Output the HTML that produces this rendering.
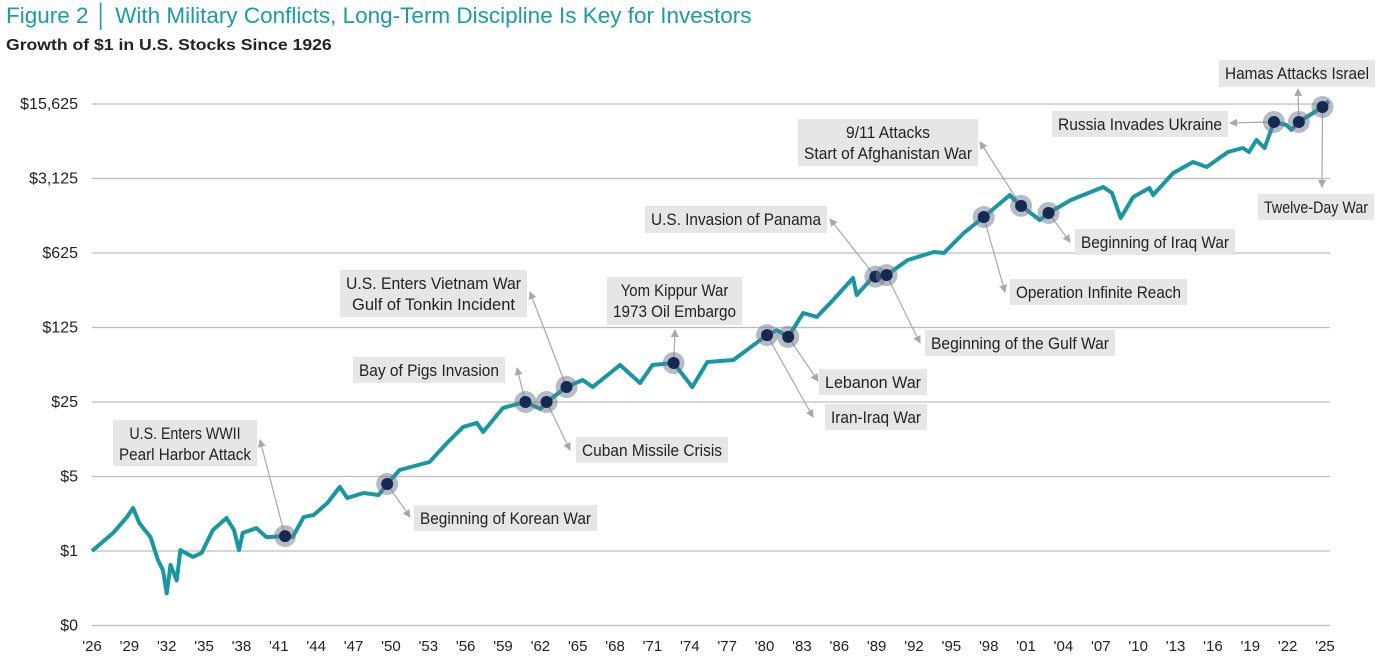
<!DOCTYPE html>
<html><head><meta charset="utf-8">
<style>
body{margin:0;background:#fff;width:1394px;height:666px;overflow:hidden;font-family:"Liberation Sans",sans-serif;}
#title{position:absolute;left:6px;top:3px;font-family:"Liberation Sans",sans-serif;font-size:22.5px;color:#1a9ba8;white-space:nowrap;}
#sub{position:absolute;left:6px;top:37px;font-family:"Liberation Sans",sans-serif;font-size:16px;font-weight:bold;color:#222;white-space:nowrap;transform:scaleX(1.1);transform-origin:0 0;}
svg{position:absolute;left:0;top:0;}
</style></head><body>
<div id="title">Figure 2 │ With Military Conflicts, Long-Term Discipline Is Key for Investors</div>
<div id="sub">Growth of $1 in U.S. Stocks Since 1926</div>
<svg id="chart" width="1394" height="666"></svg>
<script>
const years=[1926,1927.7,1928.8,1929.3,1929.8,1930.7,1931.3,1931.7,1932.0,1932.3,1932.8,1933.1,1934.1,1934.8,1935.7,1936.8,1937.4,1937.8,1938.1,1939.2,1940.0,1941.5,1942.1,1943.0,1943.8,1944.9,1945.9,1946.5,1947.8,1949.0,1949.7,1950.7,1953.1,1954.5,1955.8,1956.9,1957.4,1959.0,1960.8,1962.0,1962.5,1964.1,1965.4,1966.2,1968.4,1970.0,1971.0,1972.7,1974.2,1975.4,1977.5,1980.2,1981.0,1981.9,1983.1,1984.2,1985.5,1987.1,1987.4,1988.7,1989.8,1991.5,1993.6,1994.4,1996.0,1997.6,1999.7,2000.3,2002.1,2002.8,2004.6,2007.2,2007.9,2008.6,2009.6,2010.9,2011.2,2012.8,2014.4,2015.5,2017.2,2018.4,2018.9,2019.5,2020.15,2020.9,2021.9,2022.3,2022.9,2024.8,2025.3];
const values=[1.0,1.48,2.08,2.53,1.83,1.35,0.82,0.66,0.40,0.74,0.53,1.02,0.88,0.96,1.57,2.04,1.57,1.02,1.48,1.64,1.35,1.38,1.35,2.08,2.18,2.82,3.99,3.14,3.50,3.35,4.25,5.75,6.84,10.3,14.6,15.9,13.1,22.0,25.0,21.5,25.0,34.6,40.2,34.6,55.6,37.7,55.6,58.0,34.6,59.3,61.9,106,118,102,171,157,226,364,252,372,388,537,638,625,963,1360,2190,1840,1275,1483,1964,2600,2285,1332,2095,2545,2190,3515,4460,4005,5540,6040,5540,7180,6040,10600,9930,8920,10600,14650,16680];
const yTicks=[0.2,1,5,25,125,625,3125,15625];
const yTickLabels=["$0","$1","$5","$25","$125","$625","$3,125","$15,625"];
const xTicks=[1926,1929,1932,1935,1938,1941,1944,1947,1950,1953,1956,1959,1962,1965,1968,1971,1974,1977,1980,1983,1986,1989,1992,1995,1998,2001,2004,2007,2010,2013,2016,2019,2022,2025];
const eventNames=["U.S. Enters WWII|Pearl Harbor Attack","Beginning of Korean War","Bay of Pigs Invasion","Cuban Missile Crisis","U.S. Enters Vietnam War|Gulf of Tonkin Incident","Yom Kippur War|1973 Oil Embargo","Iran-Iraq War","Lebanon War","U.S. Invasion of Panama","Beginning of the Gulf War","Operation Infinite Reach","9/11 Attacks|Start of Afghanistan War","Beginning of Iraq War","Russia Invades Ukraine","Hamas Attacks Israel","Twelve-Day War"];
const eventYears=[1941.5,1949.7,1960.8,1962.5,1964.1,1972.7,1980.2,1981.9,1988.9,1989.8,1997.6,2000.6,2002.8,2020.9,2022.9,2024.8];
// label box layout: [left, top, width, height, arrowTipX, arrowTipY]
const boxes=[[113,420,144,46,260,440],[414,505,183,26,410,517],[353,357,152,26,517,368],[576,437,152,26,570,450],[340,270,187,47,530,292],[607,277,135,48,675,330],[825,404,102,26,813,417],[819,369,108,26,818,381],[645,206,182,27,830,219],[925,330,190,26,920,343],[1010,279,177,26,1005,292],[798,119,180,47,980,142],[1075,229,160,26,1070,242],[1052,111,176,26,1230,123],[1219,60,156,27,1298,89],[1258,194,116,26,1322,187]];

const NS="http://www.w3.org/2000/svg";
const svg=document.getElementById('chart');
const X0=92,X1=1325,Y1=551,PX=74.5;
const xs=y=>X0+(y-1926)*(X1-X0)/(2025-1926);
const ys=v=>Y1-Math.log(v)/Math.log(5)*PX;
function mk(t,a,p){const e=document.createElementNS(NS,t);for(const k in a)e.setAttribute(k,a[k]);(p||svg).appendChild(e);return e;}
function interp(y){for(let i=1;i<years.length;i++){if(y<=years[i]){const t=(y-years[i-1])/(years[i]-years[i-1]);return Math.exp(Math.log(values[i-1])*(1-t)+Math.log(values[i])*t);}}return values[values.length-1];}

const defs=mk('defs',{});
const mkr=mk('marker',{id:'ah',markerWidth:8,markerHeight:8,refX:7,refY:4,orient:'auto',markerUnits:'userSpaceOnUse'},defs);
mk('path',{d:'M0,0 L8,4 L0,8 Z',fill:'#a8a8a8'},mkr);

yTicks.forEach((v,i)=>{
  const g=mk('line',{x1:X0,x2:1330,y1:ys(v),y2:ys(v),stroke:'#bdbdbd','stroke-width':1.3});
  
  
  const t=mk('text',{x:78,y:ys(v)+5,'text-anchor':'end','font-size':16,fill:'#222','font-family':'Liberation Sans, sans-serif'});
  t.textContent=yTickLabels[i];
  
  
});
xTicks.forEach(y=>{
  const t=mk('text',{x:xs(y),y:651,'text-anchor':'middle','font-size':15,fill:'#222','font-family':'Liberation Sans, sans-serif'});
  t.textContent="'"+String(y%100).padStart(2,'0');
  
  
});

const line=mk('polyline',{points:years.map((y,i)=>xs(y).toFixed(1)+','+ys(values[i]).toFixed(1)).join(' '),fill:'none',stroke:'#17979f','stroke-width':4,'stroke-linejoin':'round'});



eventNames.forEach((n,i)=>{
  const b=boxes[i],cx=xs(eventYears[i]),cy=ys(interp(eventYears[i]));
  const a=mk('line',{x1:cx,y1:cy,x2:b[4],y2:b[5],stroke:'#a8a8a8','stroke-width':1.2,'marker-end':'url(#ah)'});
  
  
  const r=mk('rect',{x:b[0],y:b[1],width:b[2],height:b[3],fill:'#e6e6e6'});
  
  
  const lines=n.split('|');
  lines.forEach((s,j)=>{
    const t=mk('text',{x:b[0]+b[2]/2,y:b[1]+19+j*21,'text-anchor':'middle','font-size':16.5,fill:'#222','font-family':'Liberation Sans, sans-serif'});
    t.textContent=s;
    
    
    const w=t.getComputedTextLength(),target=(b[2]-12)*(s.length/Math.max(...lines.map(q=>q.length)));
    if(w>target){t.setAttribute('textLength',target);t.setAttribute('lengthAdjust','spacingAndGlyphs');}
  });
  const h=mk('circle',{cx:cx,cy:cy,r:11,fill:'rgba(110,120,145,0.5)'});
  
  
  const d=mk('circle',{cx:cx,cy:cy,r:6,fill:'#16294f'});
  
  
});
</script>
</body></html>
